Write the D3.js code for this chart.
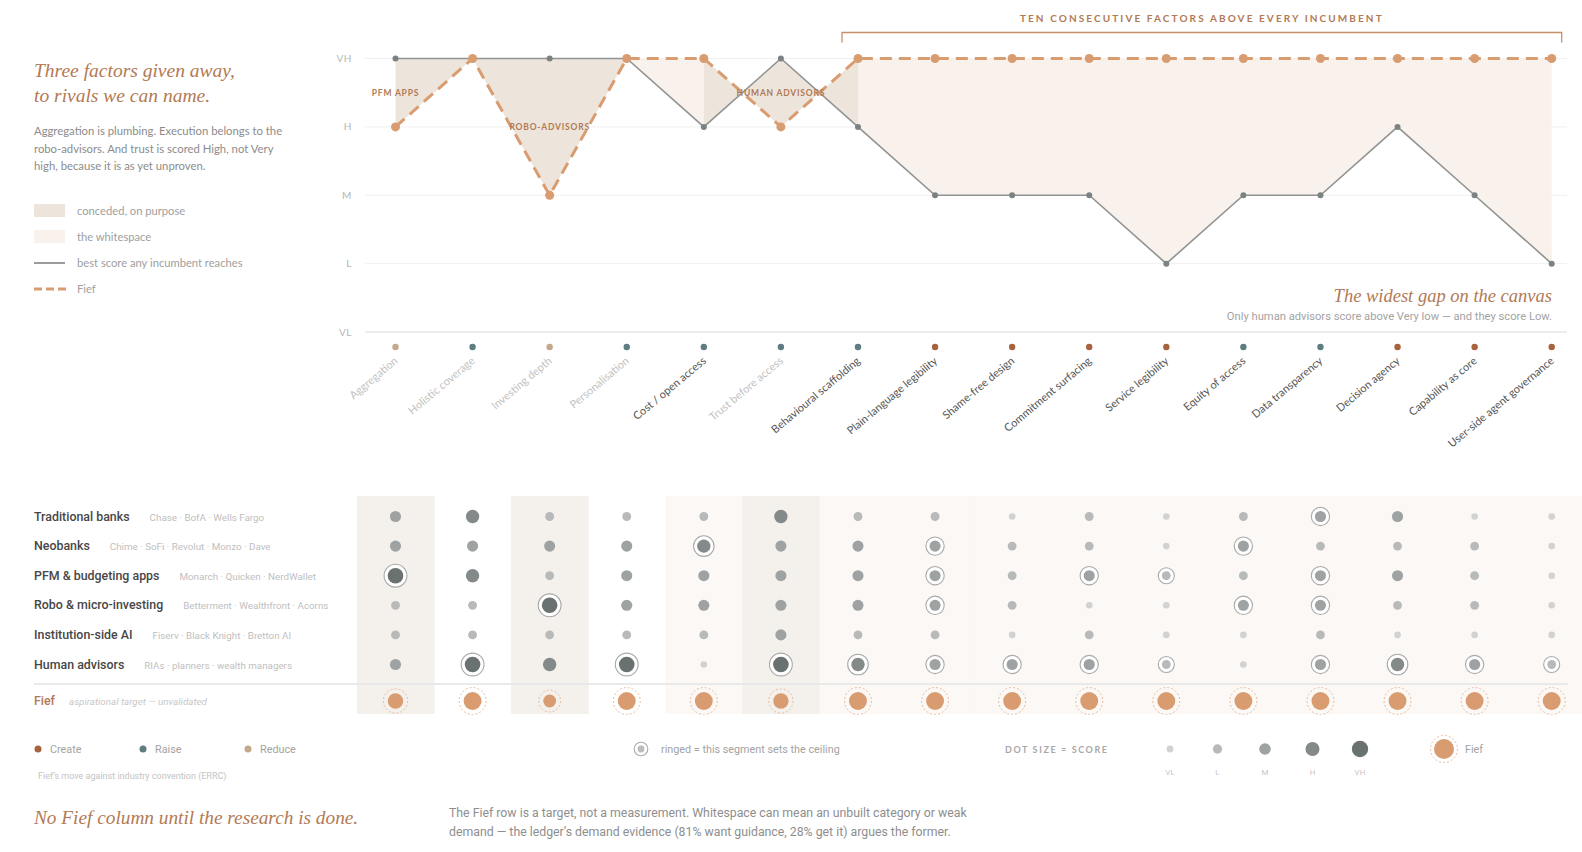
<!DOCTYPE html>
<html>
<head>
<meta charset="utf-8">
<script src="https://cdn.jsdelivr.net/npm/d3@7"></script>
<style>
  body { margin: 0; background: #fff; }
  svg { display: block; }
</style>
</head>
<body>
<svg id="chart"></svg>
<script>
const factors = ["Aggregation", "Holistic coverage", "Investing depth", "Personalisation",
  "Cost / open access", "Trust before access", "Behavioural scaffolding", "Plain-language legibility",
  "Shame-free design", "Commitment surfacing", "Service legibility", "Equity of access",
  "Data transparency", "Decision agency", "Capability as core", "User-side agent governance"];

const errc = ["reduce", "raise", "reduce", "raise", "raise", "raise", "raise", "create",
  "create", "create", "create", "raise", "raise", "create", "create", "create"];

const levels = ["VL", "L", "M", "H", "VH"];

const fiefScores = ["H", "VH", "M", "VH", "VH", "H", "VH", "VH", "VH", "VH", "VH", "VH", "VH", "VH", "VH", "VH"];

const segments = ["Traditional banks", "Neobanks", "PFM & budgeting apps", "Robo & micro-investing",
  "Institution-side AI", "Human advisors"];
const companies = ["Chase · BofA · Wells Fargo", "Chime · SoFi · Revolut · Monzo · Dave",
  "Monarch · Quicken · NerdWallet", "Betterment · Wealthfront · Acorns",
  "Fiserv · Black Knight · Bretton AI", "RIAs · planners · wealth managers"];
const segmentScores = [
  ["M", "H", "L", "L", "L", "H", "L", "L", "VL", "L", "VL", "L", "M", "M", "VL", "VL"],
  ["M", "M", "M", "M", "H", "M", "M", "M", "L", "L", "VL", "M", "L", "L", "L", "VL"],
  ["VH", "H", "L", "M", "M", "M", "M", "M", "L", "M", "L", "L", "M", "M", "L", "VL"],
  ["L", "L", "VH", "M", "M", "M", "M", "M", "L", "VL", "VL", "M", "M", "L", "L", "VL"],
  ["L", "L", "L", "L", "L", "M", "L", "L", "VL", "L", "VL", "VL", "L", "VL", "VL", "VL"],
  ["M", "VH", "H", "VH", "VL", "VH", "H", "M", "M", "M", "L", "VL", "M", "H", "M", "L"]
];

// who each conceded factor is given away to
const rivals = [
  {factor: "Aggregation", label: "PFM APPS"},
  {factor: "Investing depth", label: "ROBO-ADVISORS"},
  {factor: "Trust before access", label: "HUMAN ADVISORS"}
];

const introLines = ["Aggregation is plumbing. Execution belongs to the",
  "robo-advisors. And trust is scored High, not Very",
  "high, because it is as yet unproven."];
const noteLines = ["The Fief row is a target, not a measurement. Whitespace can mean an unbuilt category or weak",
  "demand — the ledger’s demand evidence (81% want guidance, 28% get it) argues the former."];

const W = 1582, H = 852;
const SANS = "Lato, 'Noto Sans', sans-serif";
const COND = "Roboto, 'Liberation Sans', sans-serif";
const SERIF = "'Liberation Serif', 'DejaVu Serif', serif";
const ACCENT = "#b27a55";
const FIEF = "#d99c70";
const fillColor = {conceded: "#ede5dc", white: "#f9f1eb"};
const bandColor = {conceded: "#f4f0ec", white: "#fbf8f5", none: "#fff"};
const errcColor = {create: "#a6633e", raise: "#5f7d81", reduce: "#c4a88b"};

const svg = d3.select("#chart").attr("width", W).attr("height", H)
  .style("font-family", SANS);

const lv = s => levels.indexOf(s);
const x = d3.scalePoint().domain(factors).range([395.5, 1551.7]);
const step = x.step();
const y = d3.scalePoint().domain(levels).range([332, 58.5]);

const incumbentBest = factors.map((f, i) => levels[d3.max(segmentScores, s => lv(s[i]))]);
const colClass = factors.map((f, i) => {
  const a = lv(fiefScores[i]), b = lv(incumbentBest[i]);
  return a < b ? "conceded" : a > b ? "white" : "none";
});

// ---------- top chart ----------
const gTop = svg.append("g");

gTop.selectAll(".grid")
  .data(levels)
  .enter().append("line")
    .attr("x1", 365).attr("x2", 1567)
    .attr("y1", d => y(d)).attr("y2", d => y(d))
    .attr("stroke", d => d === "VL" ? "#dcdcdc" : "#f0f0f0")
    .attr("stroke-width", 1);

gTop.selectAll(".ylab")
  .data(levels)
  .enter().append("text")
    .attr("x", 352).attr("y", d => y(d) + 3.5)
    .attr("text-anchor", "end")
    .attr("font-size", 10).attr("letter-spacing", 0.6)
    .attr("fill", "#b5b5b5")
    .text(d => d);

const area = d3.area()
  .x(i => x(factors[i]))
  .y0(i => y(incumbentBest[i]))
  .y1(i => y(fiefScores[i]));

// class of each gap between neighbouring factors, then merged into runs
const intervalCls = d3.pairs(d3.range(factors.length)).map(([a, b]) =>
  (colClass[a] === "conceded" || colClass[b] === "conceded") ? "conceded"
    : (colClass[a] === "white" || colClass[b] === "white") ? "white" : "none");
const runs = [];
intervalCls.forEach((cls, i) => {
  const last = runs[runs.length - 1];
  if (last && last.cls === cls) last.pts.push(i + 1);
  else runs.push({cls, pts: [i, i + 1]});
});

gTop.selectAll(".gap")
  .data(runs.filter(d => d.cls !== "none"))
  .enter().append("path")
    .attr("d", d => area(d.pts))
    .attr("fill", d => fillColor[d.cls]);

const line = d3.line().x(i => x(factors[i]));
const idx = d3.range(factors.length);

gTop.append("path")
  .attr("d", line.y(i => y(incumbentBest[i]))(idx))
  .attr("fill", "none").attr("stroke", "#919292").attr("stroke-width", 1.6);

gTop.selectAll(".incDot")
  .data(idx)
  .enter().append("circle")
    .attr("cx", i => x(factors[i])).attr("cy", i => y(incumbentBest[i]))
    .attr("r", 3).attr("fill", "#7c8282");

gTop.append("path")
  .attr("d", line.y(i => y(fiefScores[i]))(idx))
  .attr("fill", "none").attr("stroke", FIEF).attr("stroke-width", 3)
  .attr("stroke-dasharray", "12 7");

gTop.selectAll(".fiefDot")
  .data(idx)
  .enter().append("circle")
    .attr("cx", i => x(factors[i])).attr("cy", i => y(fiefScores[i]))
    .attr("r", 4.5).attr("fill", FIEF);

gTop.selectAll(".rival")
  .data(rivals)
  .enter().append("text")
    .attr("x", d => x(d.factor))
    .attr("y", d => {
      const i = factors.indexOf(d.factor);
      return (y(incumbentBest[i]) + y(fiefScores[i])) / 2 + 3;
    })
    .attr("text-anchor", "middle")
    .attr("font-size", 8.5).attr("font-weight", 700).attr("letter-spacing", 0.8)
    .attr("fill", ACCENT)
    .text(d => d.label);

// bracket over the run of factors above every incumbent
const runStart = x(factors[6]) - 16, runEnd = x(factors[15]) + 10;
gTop.append("path")
  .attr("d", `M${runStart},42.5V32.5H${runEnd}V42.5`)
  .attr("fill", "none").attr("stroke", "#c98f68").attr("stroke-width", 1.3);
gTop.append("text")
  .attr("x", (runStart + runEnd) / 2).attr("y", 22)
  .attr("text-anchor", "middle")
  .attr("font-size", 10).attr("font-weight", 700).attr("letter-spacing", 2.1)
  .attr("fill", ACCENT)
  .text("TEN CONSECUTIVE FACTORS ABOVE EVERY INCUMBENT");

gTop.append("text")
  .attr("x", 1552).attr("y", 302)
  .attr("text-anchor", "end")
  .style("font-family", SERIF).style("font-style", "italic")
  .attr("font-size", 18.5).attr("fill", ACCENT)
  .text("The widest gap on the canvas");
gTop.append("text")
  .attr("x", 1552).attr("y", 320)
  .attr("text-anchor", "end")
  .style("font-family", COND)
  .attr("font-size", 11.2).attr("fill", "#a3a3a3")
  .text("Only human advisors score above Very low — and they score Low.");

// ERRC markers + factor labels
gTop.selectAll(".errc")
  .data(idx)
  .enter().append("circle")
    .attr("cx", i => x(factors[i])).attr("cy", 347)
    .attr("r", 3.2).attr("fill", i => errcColor[errc[i]]);

gTop.selectAll(".xlab")
  .data(idx)
  .enter().append("text")
    .attr("transform", i => `translate(${x(factors[i]) + 3},362) rotate(-40)`)
    .attr("text-anchor", "end")
    .attr("font-size", 11)
    .attr("fill", i => colClass[i] === "white" ? "#555" : "#c2c2c2")
    .text(i => factors[i]);

// ---------- left panel ----------
const gLeft = svg.append("g");
gLeft.selectAll(".head")
  .data(["Three factors given away,", "to rivals we can name."])
  .enter().append("text")
    .attr("x", 34).attr("y", (d, i) => 77 + i * 24.5)
    .style("font-family", SERIF).style("font-style", "italic")
    .attr("font-size", 19.5).attr("fill", ACCENT)
    .text(d => d);

gLeft.selectAll(".intro")
  .data(introLines)
  .enter().append("text")
    .attr("x", 34).attr("y", (d, i) => 135 + i * 17.5)
    .attr("font-size", 11.3).attr("fill", "#8c8c8c")
    .text(d => d);

const legendItems = [
  {type: "conceded", label: "conceded, on purpose"},
  {type: "white", label: "the whitespace"},
  {type: "line", label: "best score any incumbent reaches"},
  {type: "dash", label: "Fief"}
];
const lg = gLeft.selectAll(".lg")
  .data(legendItems)
  .enter().append("g")
    .attr("transform", (d, i) => `translate(34,${211 + i * 26})`);
lg.filter(d => d.type === "conceded" || d.type === "white")
  .append("rect")
    .attr("x", 0).attr("y", -7).attr("width", 31).attr("height", 13)
    .attr("fill", d => fillColor[d.type]);
lg.filter(d => d.type === "line")
  .append("line")
    .attr("x1", 0).attr("x2", 31).attr("y1", 0).attr("y2", 0)
    .attr("stroke", "#8f9090").attr("stroke-width", 1.8);
lg.filter(d => d.type === "dash")
  .append("line")
    .attr("x1", 0).attr("x2", 32).attr("y1", 0).attr("y2", 0)
    .attr("stroke", FIEF).attr("stroke-width", 3).attr("stroke-dasharray", "8 4");
lg.append("text")
  .attr("x", 43).attr("y", 4)
  .attr("font-size", 11.2).attr("fill", "#a0a0a0")
  .text(d => d.label);

// ---------- matrix ----------
const gMat = svg.append("g");
const rowY = d3.scalePoint().domain(segments).range([516.5, 664.5]);
const fiefY = 701;
const rScale = d3.scaleLinear().domain([0, 4]).range([3.3, 7.8]);
const cScale = d3.scaleLinear().domain([0, 4]).range(["#d2d2d2", "#6a7271"]);

gMat.selectAll(".band")
  .data(idx.filter(i => colClass[i] !== "none"))
  .enter().append("rect")
    .attr("x", i => x(factors[i]) - step / 2)
    .attr("y", 496)
    .attr("width", i => i === factors.length - 1 ? W - (x(factors[i]) - step / 2) : step + 0.5)
    .attr("height", 218)
    .attr("fill", i => bandColor[colClass[i]]);

gMat.append("line")
  .attr("x1", 34).attr("x2", 1568).attr("y1", 684).attr("y2", 684)
  .attr("stroke", "#e9e9e9").attr("stroke-width", 2);

const cells = [];
segments.forEach((s, r) => factors.forEach((f, i) => {
  const v = lv(segmentScores[r][i]);
  cells.push({seg: s, factor: f, v, ceiling: v === lv(incumbentBest[i])});
}));

gMat.selectAll(".ring")
  .data(cells.filter(d => d.ceiling))
  .enter().append("circle")
    .attr("cx", d => x(d.factor)).attr("cy", d => rowY(d.seg))
    .attr("r", d => rScale(d.v) + 3.6)
    .attr("fill", "#fff").attr("stroke", "#a9a9a9").attr("stroke-width", 1.1);

gMat.selectAll(".cell")
  .data(cells)
  .enter().append("circle")
    .attr("cx", d => x(d.factor)).attr("cy", d => rowY(d.seg))
    .attr("r", d => rScale(d.v))
    .attr("fill", d => cScale(d.v));

gMat.selectAll(".fiefRing")
  .data(idx)
  .enter().append("circle")
    .attr("cx", i => x(factors[i])).attr("cy", fiefY)
    .attr("r", i => rScale(lv(fiefScores[i])) * 1.15 + 4.5)
    .attr("fill", "none").attr("stroke", "#e9bb9c").attr("stroke-width", 1)
    .attr("stroke-dasharray", "2 2");
gMat.selectAll(".fiefCell")
  .data(idx)
  .enter().append("circle")
    .attr("cx", i => x(factors[i])).attr("cy", fiefY)
    .attr("r", i => rScale(lv(fiefScores[i])) * 1.15)
    .attr("fill", FIEF);

const rowLab = gMat.selectAll(".rowlab")
  .data(segments)
  .enter().append("g")
    .attr("transform", d => `translate(34,${rowY(d) + 4})`);
rowLab.append("text")
  .style("font-family", COND).attr("font-size", 12.4).attr("font-weight", 500)
  .attr("fill", "#474747")
  .text(d => d)
  .each(function(d, i) {
    const w = this.getComputedTextLength();
    d3.select(this.parentNode).append("text")
      .attr("x", w + 20)
      .style("font-family", COND).attr("font-size", 9.8)
      .attr("fill", "#c0c0c0")
      .text(companies[i]);
  });

const fl = gMat.append("text")
  .attr("x", 34).attr("y", fiefY + 4)
  .style("font-family", COND).attr("font-size", 12.4).attr("font-weight", 500)
  .attr("fill", ACCENT).text("Fief");
gMat.append("text")
  .attr("x", 34 + fl.node().getComputedTextLength() + 14).attr("y", fiefY + 3.5)
  .style("font-family", COND).style("font-style", "italic")
  .attr("font-size", 9.8).attr("fill", "#c8c8c8")
  .text("aspirational target — unvalidated");

// ---------- bottom legends ----------
const gBot = svg.append("g");
const errcLegend = [{k: "create", label: "Create"}, {k: "raise", label: "Raise"}, {k: "reduce", label: "Reduce"}];
const el = gBot.selectAll(".el")
  .data(errcLegend)
  .enter().append("g")
    .attr("transform", (d, i) => `translate(${38 + i * 105},749)`);
el.append("circle").attr("r", 3.5).attr("fill", d => errcColor[d.k]);
el.append("text").attr("x", 12).attr("y", 3.8)
  .style("font-family", COND).attr("font-size", 10.8).attr("fill", "#a3a3a3")
  .text(d => d.label);
gBot.append("text")
  .attr("x", 38).attr("y", 779)
  .style("font-family", COND).attr("font-size", 9).attr("fill", "#c3c3c3")
  .text("Fief’s move against industry convention (ERRC)");

gBot.append("circle").attr("cx", 641).attr("cy", 749).attr("r", 6.8)
  .attr("fill", "#fff").attr("stroke", "#aaa").attr("stroke-width", 1.1);
gBot.append("circle").attr("cx", 641).attr("cy", 749).attr("r", 3.4).attr("fill", "#bcbcbc");
gBot.append("text").attr("x", 661).attr("y", 752.5)
  .style("font-family", COND).attr("font-size", 10.8).attr("fill", "#a3a3a3")
  .text("ringed = this segment sets the ceiling");

gBot.append("text").attr("x", 1005).attr("y", 752.5)
  .attr("font-size", 9).attr("font-weight", 700).attr("letter-spacing", 1.6)
  .attr("fill", "#a8a8a8")
  .text("DOT SIZE = SCORE");

const sizeX = d3.scalePoint().domain(levels).range([1170, 1360]);
gBot.selectAll(".sz")
  .data(levels)
  .enter().append("circle")
    .attr("cx", d => sizeX(d)).attr("cy", 749)
    .attr("r", d => rScale(lv(d)) * 1.05)
    .attr("fill", d => cScale(lv(d)));
gBot.selectAll(".szl")
  .data(levels)
  .enter().append("text")
    .attr("x", d => sizeX(d)).attr("y", 775)
    .attr("text-anchor", "middle")
    .style("font-family", COND).attr("font-size", 8).attr("fill", "#c8c8c8")
    .text(d => d);

gBot.append("circle").attr("cx", 1444).attr("cy", 749).attr("r", 13.5)
  .attr("fill", "none").attr("stroke", "#e9bb9c").attr("stroke-width", 1)
  .attr("stroke-dasharray", "2 2");
gBot.append("circle").attr("cx", 1444).attr("cy", 749).attr("r", 10).attr("fill", FIEF);
gBot.append("text").attr("x", 1465).attr("y", 752.5)
  .style("font-family", COND).attr("font-size", 10.8).attr("fill", "#a3a3a3")
  .text("Fief");

gBot.append("text")
  .attr("x", 34).attr("y", 824)
  .style("font-family", SERIF).style("font-style", "italic")
  .attr("font-size", 19.3).attr("fill", ACCENT)
  .text("No Fief column until the research is done.");

gBot.selectAll(".note")
  .data(noteLines)
  .enter().append("text")
    .attr("x", 449).attr("y", (d, i) => 817 + i * 19)
    .style("font-family", COND).attr("font-size", 12.3).attr("fill", "#8e8e8e")
    .text(d => d);
</script>
</body>
</html>
